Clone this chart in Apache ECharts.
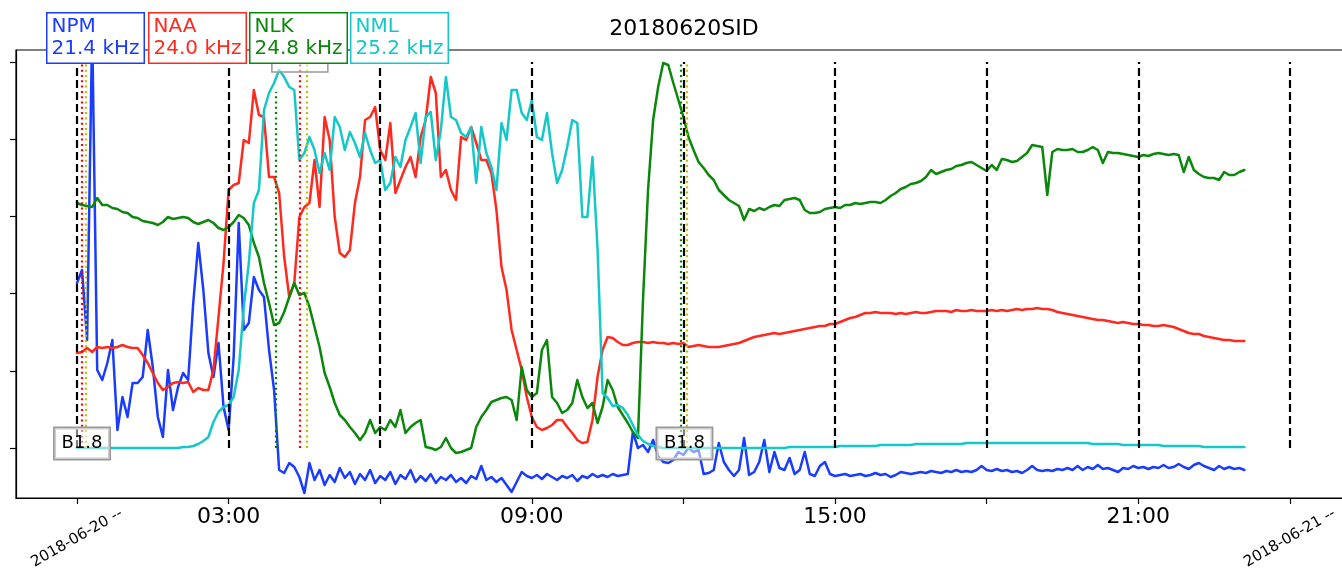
<!DOCTYPE html>
<html><head><meta charset="utf-8">
<script src="https://cdn.jsdelivr.net/npm/echarts@6/dist/echarts.min.js"></script>
<style>html,body{margin:0;padding:0;background:#fff}#c{width:1342px;height:568px}</style>
</head><body><div id="c"></div>
<script>
// ---- data (amplitude in arbitrary units, one sample every 0.1 h from 00:00) ----
const stations = ['NPM', 'NAA', 'NLK', 'NML'];
const freqs = ['21.4 kHz', '24.0 kHz', '24.8 kHz', '25.2 kHz'];
const startHour = 0, stepHour = 0.1;

const npm = [
165,178,108,420,78,68,85,108,18,51,
31,65,65,71,118,81,31,11,78,38,
61,75,68,145,205,158,95,71,105,41,
18,91,225,118,125,171,158,151,98,58,
-22,-25,-15,-19,-29,-45,-15,-32,-22,-37,
-27,-34,-20,-30,-24,-36,-26,-32,-22,-35,
-28,-32,-24,-36,-27,-31,-22,-34,-28,-33,
-26,-35,-29,-32,-27,-34,-30,-35,-28,-31,
-18,-32,-29,-34,-30,-37,-44,-34,-24,-28,
-30,-27,-31,-26,-29,-32,-28,-30,-27,-33,
-28,-30,-26,-29,-27,-29,-26,-28,-27,-26,
16,0,3,-4,8,-8,-14,-15,-12,-4,
-7,0,-4,-2,-26,-25,-22,5,-14,-22,
-28,-22,10,-27,-24,-14,8,-24,-4,-20,
-22,-10,-26,-22,-4,-26,-28,-18,-14,-26,
-28,-27,-26,-28,-27,-26,-28,-27,-25,-27,
-26,-29,-27,-24,-25,-26,-25,-24,-25,-23,
-24,-25,-23,-24,-22,-24,-23,-24,-22,-18,
-22,-23,-21,-23,-22,-24,-23,-25,-22,-18,
-22,-23,-22,-23,-21,-22,-20,-22,-18,-22,
-19,-21,-17,-21,-20,-22,-24,-20,-21,-18,
-20,-19,-21,-19,-20,-17,-20,-19,-16,-19,
-21,-17,-15,-18,-20,-22,-18,-21,-19,-21,
-20,-22];

const naa = [
95,96,100,96,101,100,101,100,101,103,
101,100,100,93,85,75,65,58,61,65,
66,65,66,56,60,58,58,78,131,185,
258,263,265,308,305,358,333,331,271,271,
255,191,151,165,231,241,245,288,241,331,
308,231,195,191,198,245,271,328,331,341,
298,288,325,255,268,281,291,271,311,328,
371,355,271,278,258,248,311,308,321,305,
288,288,275,238,181,158,118,98,78,51,
31,21,18,20,23,28,28,21,15,8,
5,6,28,71,98,111,110,106,103,103,
105,106,106,105,106,105,105,104,105,104,
105,101,102,103,102,101,101,101,102,103,
104,105,107,109,111,112,113,114,115,114,
115,116,117,118,119,120,121,122,122,124,
124,126,128,130,131,133,135,135,136,135,
135,135,134,135,134,135,136,135,135,136,
137,137,137,136,138,137,137,138,137,137,
137,138,137,138,137,138,139,138,139,139,
140,139,139,138,136,135,134,133,132,131,
130,129,128,128,127,126,125,126,125,124,
124,123,123,122,122,123,122,121,119,117,
115,114,114,112,111,110,109,108,108,107,
107,107];

const nlk = [
245,243,242,241,250,243,243,240,239,236,
235,231,230,227,226,225,223,226,231,229,
230,231,230,226,224,226,228,225,220,218,
221,226,233,230,223,205,191,165,145,123,
125,136,151,165,153,155,141,121,101,75,
61,45,33,28,21,15,8,15,28,15,
21,18,28,21,38,15,21,25,28,1,
0,-2,1,10,0,-5,-4,-2,0,21,
31,38,46,48,50,51,48,28,81,58,
51,55,98,108,51,45,35,38,45,68,
51,40,45,25,41,68,58,41,33,25,
16,10,148,258,328,361,385,383,365,348,
331,311,298,286,280,273,268,258,253,248,
245,242,228,239,237,240,238,241,243,242,
248,249,250,248,238,235,235,236,239,240,
241,240,243,243,245,244,245,246,246,245,
248,252,255,259,261,264,265,267,271,278,
274,276,278,279,282,283,285,286,283,280,
277,283,278,289,288,286,287,291,295,303,
302,301,253,296,299,298,298,299,296,296,
298,301,298,285,296,295,295,294,293,292,
291,293,292,294,295,294,293,294,293,276,
291,278,274,271,270,270,268,276,273,273,
276,278];

const nml = [
0,0,0,0,0,0,0,0,0,0,
0,0,0,0,0,0,0,0,0,0,
0,1,1,2,4,7,11,26,36,41,
43,51,78,141,185,245,258,338,355,365,
378,371,361,358,288,295,311,298,275,295,
278,331,321,298,316,305,291,315,298,285,
288,258,265,291,281,308,321,335,285,331,
336,288,318,371,331,328,315,311,321,265,
321,295,281,258,325,308,358,358,335,328,
348,311,308,335,295,265,278,301,328,325,
231,231,291,200,55,50,42,43,40,33,
23,13,7,4,2,1,0,0,0,0,
0,0,0,0,0,0,0,0,0,0,
0,0,0,0,0,0,0,0,0,0,
0,1,1,1,1,1,1,1,1,1,
1,2,2,2,2,2,2,2,2,3,
3,3,3,3,3,3,4,4,4,4,
4,4,4,4,4,4,5,5,5,5,
5,5,5,5,5,5,5,5,5,5,
5,5,5,5,5,5,5,5,5,5,
5,4,4,4,4,4,4,3,3,3,
3,3,3,3,3,2,2,2,2,2,
2,2,2,1,1,1,1,1,1,1,
1,1];

// axes / ticks
const tickHours = [0, 3, 6, 9, 12, 15, 18, 21, 24];
const timeLabelHours = [3, 9, 15, 21];
const timeLabels = ['03:00', '09:00', '15:00', '21:00'];
const dateLabelHours = [0, 24];
const dateLabels = ['2018-06-20 --', '2018-06-21 --'];
const yTicks = [0, 77.2, 154.4, 231.6, 308.8, 386];

// flare markers: [hour, top level]
const flareStarts = [[3.94, 356], [11.94, 386]];
const flarePeaks = [[0.09, 386], [4.41, 388]];
const flareEnds = [[0.18, 386], [4.55, 388], [12.07, 386]];
const flareLabels = [[0.1, 4.5, 'B1.8'], [12.02, 4.5, 'B1.8']];
const hiddenFlareBox = [4.41, 392.5];

// ---- styles ----
const colors = ['#1a3cff', '#ff2a1f', '#0b870b', '#14c8c8'];
const FONT = 'DejaVu Sans';

const times = npm.map((_, k) => +(startHour + k * stepHour).toFixed(2));
const seriesValues = [npm, naa, nlk, nml];

const series = stations.map((name, i) => ({
  name, type: 'line', xAxisIndex: 0, yAxisIndex: 0,
  data: seriesValues[i].map((v, k) => [times[k], v]),
  showSymbol: false, symbol: 'none', animation: false,
  lineStyle: { color: colors[i], width: 2.5, join: 'round', cap: 'round' }, itemStyle: { color: colors[i] }
}));

function vline(h, top, color, dash) {
  return [{ coord: [h, 0], lineStyle: { color, type: dash, width: 2.2 } }, { coord: [h, top] }];
}
const guideLines = [];
flareStarts.forEach(([h, t]) => guideLines.push(vline(h, t, '#008000', [2, 3.3])));
flarePeaks.forEach(([h, t]) => guideLines.push(vline(h, t, '#ff0000', [2, 3.3])));
flareEnds.forEach(([h, t]) => guideLines.push(vline(h, t, '#bfbf00', [2, 3.3])));
tickHours.forEach(h => guideLines.push(vline(h, 386, '#000', [8, 4])));

series.push({
  type: 'line', data: [], silent: true, z: 5, xAxisIndex: 0, yAxisIndex: 0,
  markLine: { silent: true, animation: false, symbol: ['none', 'none'], label: { show: false }, data: guideLines }
});

const chart = echarts.init(document.getElementById('c'), null, { renderer: 'canvas' });
chart.setOption({
  animation: false,
  backgroundColor: '#fff',
  textStyle: { fontFamily: FONT },
  title: { text: '20180620SID', left: 679, textAlign: 'center', top: 13,
    textStyle: { fontFamily: FONT, fontSize: 22, fontWeight: 'normal', color: '#000' } },
  grid: { left: 16, top: 50, width: 1334, height: 448, show: true, borderColor: '#000', borderWidth: 1.2,
    containLabel: false, outerBoundsMode: 'none' },
  xAxis: [{
    type: 'value', min: -1.207, max: 25.19, position: 'bottom',
    axisLine: { show: true, onZero: false, lineStyle: { color: '#000', width: 1.2 } },
    axisTick: { show: true, customValues: tickHours, length: 6, lineStyle: { color: '#000', width: 1.2 } },
    axisLabel: { show: true, customValues: timeLabelHours, margin: 8, fontSize: 22, color: '#000', fontFamily: FONT,
      formatter: v => timeLabels[timeLabelHours.indexOf(v)] },
    splitLine: { show: false }
  }, {
    type: 'value', min: -1.207, max: 25.19, position: 'bottom', gridIndex: 0,
    axisLine: { show: false, onZero: false }, axisTick: { show: false }, splitLine: { show: false },
    axisLabel: { show: true, customValues: dateLabelHours, rotate: 30, align: 'center', verticalAlign: 'middle',
      margin: 40, fontSize: 15, color: '#000', fontFamily: FONT,
      formatter: v => dateLabels[dateLabelHours.indexOf(v)] }
  }],
  yAxis: {
    type: 'value', min: -50, max: 398,
    axisLine: { show: true, onZero: false, lineStyle: { color: '#000', width: 1.2 } },
    axisTick: { show: true, customValues: yTicks, length: 6, lineStyle: { color: '#000', width: 1.2 } },
    axisLabel: { show: false }, splitLine: { show: false }
  },
  series
});

// annotations placed through the chart's scales
const graphics = [];
flareLabels.forEach(([h, v, txt]) => {
  const [px, py] = chart.convertToPixel({ gridIndex: 0 }, [h, v]);
  graphics.push({ type: 'text', x: px, y: py, z: 50,
    style: { text: txt, align: 'center', verticalAlign: 'middle', fontSize: 18, fontFamily: FONT, fill: '#000',
      backgroundColor: 'rgba(255,255,255,0.5)', borderColor: '#999', borderWidth: 1.5, padding: [7, 7, 6, 7] } });
});
{
  const [px, py] = chart.convertToPixel({ gridIndex: 0 }, hiddenFlareBox);
  graphics.push({ type: 'rect', z: 50, shape: { x: px - 28, y: py - 16.5, width: 56, height: 33 },
    style: { fill: 'rgba(255,255,255,0.5)', stroke: '#999', lineWidth: 1.5 } });
}
const legendLeft = [46, 148, 249, 350];
stations.forEach((s, i) => {
  graphics.push({ type: 'text', left: legendLeft[i], top: 12, z: 100,
    style: { text: s + '\n' + freqs[i], fill: colors[i], fontSize: 20, fontFamily: FONT, lineHeight: 22,
      backgroundColor: '#fff', borderColor: colors[i], borderWidth: 1.5, padding: [2, 4, 3, 4] } });
});
chart.setOption({ graphic: graphics });
</script>
</body></html>
